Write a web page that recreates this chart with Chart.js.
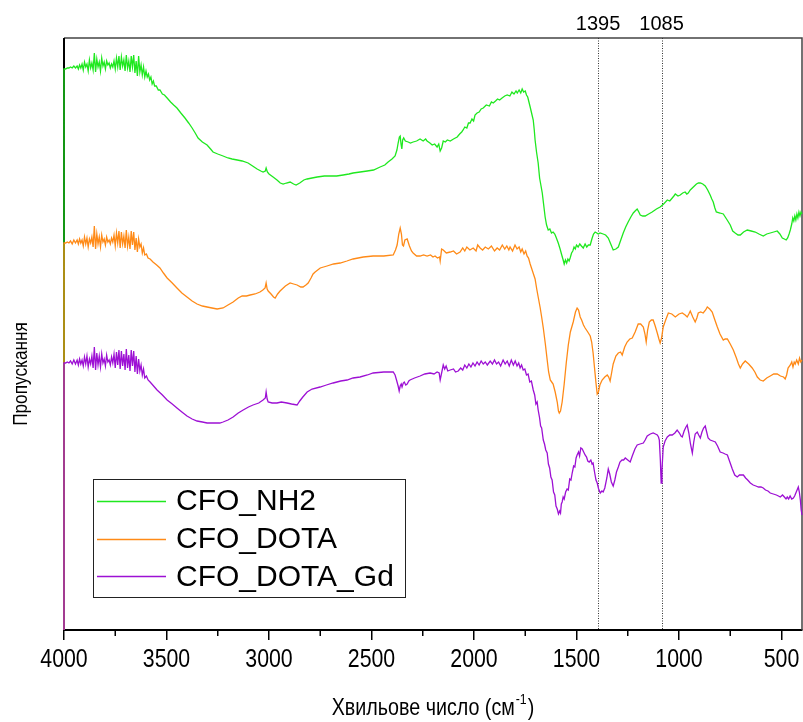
<!DOCTYPE html>
<html>
<head>
<meta charset="utf-8">
<title>ІЧ-спектри</title>
<script src="https://cdn.jsdelivr.net/npm/chart.js@4.4.1/dist/chart.umd.min.js"></script>
<style>
  html, body { margin: 0; padding: 0; background: #fff; }
  #wrap { width: 803px; height: 722px; }
</style>
</head>
<body>
<div id="wrap"><canvas id="ftir" width="803" height="722"></canvas></div>
<script>
// Axis ticks and marked absorption bands (cm^-1)
const WAVENUMBER_TICKS = [4000, 3500, 3000, 2500, 2000, 1500, 1000, 500];
const MINOR_TICKS = [3750, 3250, 2750, 2250, 1750, 1250, 750];
const MARKED_BANDS = [1395, 1085];
const SERIES_LABELS = ['CFO_NH2', 'CFO_DOTA', 'CFO_DOTA_Gd'];
const X_TITLE = 'Хвильове число (см';
const X_TITLE_SUP = '-1';
const Y_TITLE = 'Пропускання';

// Transmittance traces, [wavenumber, offset transmittance (a.u.)]
const CFO_NH2 = [
[4000,0],[4000,561],[3992,561],[3984,562],[3976,562],[3968,563],[3960,562],[3952,564],[3944,562],[3936,564],[3930,561],[3924,565],[3918,562],[3912,566],[3906,560],[3900,568],[3894,563],[3888,566],[3882,559],[3876,570],[3870,562],[3864,567],[3858,560],[3852,577],[3846,558],[3840,571],[3834,563],[3828,568],[3822,559],[3816,572],[3810,564],[3804,568],[3798,561],[3792,569],[3786,565],[3780,567],[3774,562],[3768,566],[3762,563],[3756,569],[3750,561],[3744,572],[3738,563],[3732,574],[3726,560],[3720,573],[3714,564],[3708,570],[3702,559],[3696,575],[3690,562],[3684,569],[3678,558],[3672,574],[3666,563],[3660,575],[3654,557],[3648,569],[3642,554],[3636,574],[3630,558],[3624,565],[3618,555],[3612,563],[3606,553],[3600,559],[3594,553],[3588,556],[3582,550],[3576,553],[3570,546],[3564,549],[3558,544],[3550,544],[3540,540],[3532,540],[3520,536],[3510,535],[3497,532],[3480,528],[3465,525],[3449,522],[3430,517],[3410,512],[3392,507],[3375,502],[3360,497],[3346,492],[3325,488],[3302,485],[3285,481],[3273,478],[3250,476],[3224,474],[3200,472],[3180,471],[3155,470],[3131,469],[3102,467],[3080,464],[3058,461],[3040,459],[3029,458],[3018,459],[3014,462],[3008,458],[3000,456],[2980,453],[2961,450],[2945,447],[2931,446],[2915,447],[2897,448],[2880,446],[2868,445],[2850,447],[2830,450],[2814,451],[2790,452],[2765,453],[2730,454],[2702,454],[2670,454],[2638,455],[2610,456],[2590,457],[2555,458],[2521,459],[2490,460],[2458,463],[2435,465],[2419,468],[2400,471],[2385,474],[2376,480],[2370,487],[2364,493],[2360,494],[2356,486],[2352,481],[2348,490],[2343,492],[2335,489],[2321,488],[2310,487],[2297,488],[2280,489],[2263,491],[2248,489],[2236,491],[2229,489],[2215,487],[2204,485],[2192,486],[2180,483],[2172,486],[2165,479],[2158,482],[2150,489],[2140,488],[2130,490],[2116,489],[2100,491],[2082,493],[2070,496],[2060,498],[2053,500],[2045,503],[2035,502],[2027,507],[2019,507],[2010,511],[2002,509],[1995,515],[1985,517],[1975,518],[1965,521],[1955,522],[1940,525],[1925,524],[1915,528],[1906,527],[1895,529],[1885,531],[1875,530],[1863,532],[1850,534],[1838,535],[1825,534],[1815,538],[1805,536],[1795,539],[1789,537],[1780,540],[1772,537],[1765,541],[1758,538],[1750,539],[1744,535],[1738,533],[1732,528],[1726,523],[1718,516],[1711,510],[1706,500],[1702,490],[1695,478],[1687,467],[1680,452],[1673,444],[1667,437],[1660,425],[1653,413],[1646,405],[1638,400],[1630,401],[1622,397],[1614,398],[1606,396],[1600,393],[1589,387],[1580,381],[1572,375],[1565,370],[1560,366],[1554,370],[1548,367],[1542,371],[1536,369],[1531,372],[1524,377],[1518,379],[1512,383],[1506,381],[1500,385],[1492,383],[1484,386],[1476,384],[1467,382],[1458,386],[1450,383],[1442,385],[1433,385],[1425,391],[1417,396],[1409,398],[1401,397],[1394,396],[1385,397],[1370,396],[1358,395],[1345,392],[1333,386],[1321,380],[1308,381],[1296,383],[1284,390],[1272,397],[1260,403],[1248,408],[1235,413],[1223,417],[1214,419],[1204,421],[1196,418],[1189,415],[1177,414],[1165,414],[1148,416],[1131,418],[1110,421],[1092,423],[1075,426],[1057,430],[1045,429],[1033,432],[1025,434],[1018,436],[1005,434],[994,435],[982,437],[970,438],[962,436],[955,437],[945,440],[930,443],[915,446],[905,447],[896,447],[884,446],[872,444],[860,440],[848,435],[840,431],[833,428],[825,422],[818,418],[800,417],[784,416],[765,410],[750,405],[738,399],[726,397],[712,395],[701,395],[685,398],[667,400],[648,399],[628,398],[610,396],[589,394],[572,396],[555,397],[538,398],[521,399],[508,396],[496,392],[486,391],[477,390],[470,392],[463,396],[457,400],[450,406],[445,412],[440,409],[435,414],[430,410],[425,416],[420,412],[415,418],[410,414],[405,418],[400,416]
];

const CFO_DOTA = [
[4000,0],[4000,387],[3992,387],[3984,388],[3976,387],[3968,389],[3960,386],[3952,390],[3944,387],[3936,390],[3930,386],[3924,391],[3918,387],[3912,390],[3906,384],[3900,393],[3894,386],[3888,392],[3882,383],[3876,391],[3870,387],[3864,393],[3858,383],[3852,404],[3846,381],[3840,396],[3834,386],[3828,393],[3822,383],[3816,395],[3810,388],[3804,391],[3798,385],[3792,393],[3786,388],[3780,390],[3774,386],[3768,392],[3762,388],[3756,395],[3750,384],[3744,397],[3738,387],[3732,399],[3726,382],[3720,398],[3714,386],[3708,394],[3702,382],[3696,400],[3690,384],[3684,393],[3678,381],[3672,399],[3666,385],[3660,398],[3654,380],[3648,392],[3642,378],[3636,391],[3630,383],[3624,386],[3618,377],[3612,382],[3606,375],[3598,376],[3590,372],[3580,371],[3566,368],[3548,365],[3532,362],[3515,357],[3497,352],[3472,347],[3449,342],[3425,337],[3400,333],[3375,329],[3351,326],[3325,324],[3302,323],[3278,322],[3253,321],[3224,322],[3200,325],[3175,328],[3150,332],[3131,334],[3110,334],[3092,335],[3068,336],[3044,338],[3030,340],[3019,342],[3014,347],[3009,341],[3004,339],[2990,336],[2978,333],[2970,332],[2958,336],[2946,339],[2920,344],[2897,347],[2880,346],[2863,345],[2845,343],[2834,343],[2820,345],[2809,347],[2795,352],[2785,356],[2775,358],[2750,362],[2717,364],[2685,366],[2653,367],[2620,369],[2590,371],[2540,373],[2492,374],[2440,374],[2394,375],[2383,380],[2375,385],[2367,396],[2360,402],[2354,396],[2349,385],[2344,384],[2337,390],[2326,391],[2315,384],[2305,379],[2297,377],[2280,374],[2263,374],[2246,375],[2229,374],[2212,375],[2200,373],[2190,374],[2178,372],[2168,373],[2165,369],[2158,381],[2150,380],[2135,377],[2116,378],[2100,379],[2085,376],[2068,378],[2055,382],[2045,379],[2035,383],[2020,380],[2004,382],[1990,379],[1982,385],[1970,382],[1958,380],[1945,383],[1930,381],[1915,384],[1900,379],[1887,382],[1875,380],[1862,385],[1850,381],[1840,384],[1830,380],[1824,383],[1812,379],[1800,385],[1790,381],[1780,383],[1772,378],[1765,381],[1756,376],[1748,379],[1741,374],[1734,372],[1726,366],[1718,361],[1710,356],[1702,351],[1694,341],[1686,332],[1677,322],[1670,313],[1662,302],[1652,286],[1643,270],[1636,258],[1628,250],[1621,248],[1614,246],[1604,238],[1594,228],[1588,219],[1584,217],[1578,219],[1570,228],[1560,246],[1550,267],[1540,285],[1530,298],[1516,308],[1505,318],[1497,322],[1490,320],[1482,313],[1475,310],[1466,305],[1458,302],[1445,298],[1433,294],[1426,288],[1419,277],[1412,262],[1405,247],[1399,236],[1393,238],[1386,245],[1375,250],[1362,253],[1350,255],[1343,253],[1336,249],[1328,258],[1321,266],[1308,274],[1296,277],[1285,278],[1277,275],[1265,283],[1253,288],[1240,291],[1228,292],[1214,298],[1199,306],[1187,306],[1174,303],[1166,296],[1160,288],[1153,300],[1145,308],[1135,310],[1126,310],[1116,304],[1106,297],[1098,291],[1092,287],[1085,292],[1077,303],[1065,310],[1052,317],[1035,316],[1018,313],[1000,316],[984,317],[970,315],[960,313],[952,316],[945,319],[933,313],[921,308],[913,312],[906,317],[894,318],[882,317],[870,320],[862,323],[850,321],[838,318],[825,310],[813,303],[800,296],[784,290],[775,291],[764,291],[750,286],[735,280],[720,272],[710,266],[701,262],[690,266],[677,269],[660,266],[643,262],[630,258],[618,253],[604,250],[589,249],[572,252],[555,254],[538,256],[521,256],[505,254],[490,253],[482,251],[475,255],[468,262],[457,265],[450,268],[444,263],[438,268],[433,266],[426,270],[418,266],[412,272],[406,268],[400,270]
];

const CFO_DOTA_GD = [
[4000,0],[4000,267],[3992,267],[3984,268],[3976,267],[3968,269],[3960,266],[3952,270],[3944,266],[3936,270],[3930,265],[3924,271],[3918,266],[3912,270],[3906,264],[3900,273],[3894,266],[3888,274],[3882,263],[3876,271],[3870,266],[3864,274],[3858,262],[3852,283],[3846,260],[3840,277],[3834,265],[3828,274],[3822,263],[3816,276],[3810,267],[3804,271],[3798,264],[3792,275],[3786,268],[3780,270],[3774,265],[3768,273],[3762,267],[3756,276],[3750,262],[3744,278],[3738,265],[3732,280],[3726,261],[3720,279],[3714,264],[3708,276],[3702,260],[3696,281],[3690,262],[3684,275],[3678,259],[3672,280],[3666,264],[3660,279],[3654,258],[3648,274],[3642,256],[3636,271],[3630,259],[3624,265],[3618,255],[3612,261],[3606,252],[3598,254],[3590,250],[3580,248],[3563,244],[3546,240],[3520,235],[3497,230],[3472,226],[3449,222],[3425,218],[3400,214],[3375,211],[3351,209],[3325,208],[3302,207],[3280,207],[3263,207],[3240,207],[3224,208],[3200,210],[3175,213],[3150,217],[3126,220],[3100,223],[3078,225],[3050,227],[3029,230],[3018,232],[3014,238],[3009,231],[3004,228],[2985,227],[2961,227],[2940,228],[2912,227],[2890,226],[2863,225],[2850,229],[2835,233],[2814,238],[2790,241],[2751,243],[2720,245],[2687,247],[2650,249],[2619,250],[2590,252],[2556,253],[2520,255],[2492,257],[2440,258],[2394,258],[2385,255],[2378,250],[2370,244],[2365,239],[2360,244],[2355,246],[2351,243],[2345,247],[2340,248],[2333,245],[2326,246],[2318,249],[2312,250],[2290,252],[2263,254],[2240,256],[2214,257],[2195,256],[2180,258],[2170,257],[2165,250],[2160,255],[2150,265],[2143,261],[2136,264],[2128,259],[2116,260],[2100,261],[2090,258],[2077,259],[2065,262],[2055,260],[2045,265],[2035,262],[2025,266],[2015,263],[2005,267],[1995,264],[1985,268],[1975,265],[1965,269],[1955,266],[1945,268],[1935,265],[1921,269],[1910,266],[1900,270],[1890,266],[1880,268],[1870,264],[1858,270],[1848,266],[1838,269],[1828,264],[1818,270],[1808,265],[1799,269],[1790,264],[1782,267],[1775,262],[1768,265],[1760,260],[1752,261],[1744,255],[1736,256],[1728,248],[1720,249],[1711,240],[1704,235],[1698,226],[1692,228],[1687,220],[1680,212],[1675,204],[1670,202],[1662,190],[1656,186],[1650,180],[1643,177],[1637,166],[1631,162],[1625,153],[1619,150],[1612,138],[1606,135],[1600,124],[1594,121],[1588,116],[1582,119],[1578,117],[1574,126],[1570,128],[1565,133],[1560,131],[1553,138],[1546,141],[1540,140],[1533,151],[1527,150],[1521,157],[1514,164],[1508,163],[1502,172],[1497,175],[1490,178],[1485,174],[1479,182],[1472,181],[1465,178],[1458,175],[1451,173],[1445,169],[1438,168],[1430,170],[1424,166],[1419,167],[1412,158],[1405,150],[1399,147],[1392,141],[1384,137],[1376,139],[1370,138],[1362,142],[1352,152],[1345,161],[1338,156],[1330,148],[1321,144],[1313,150],[1305,158],[1296,163],[1288,168],[1278,170],[1270,170],[1262,172],[1250,170],[1238,168],[1228,174],[1215,181],[1204,185],[1190,186],[1174,187],[1165,190],[1155,194],[1140,196],[1126,197],[1115,196],[1106,195],[1100,193],[1096,190],[1091,170],[1087,147],[1083,160],[1077,183],[1068,189],[1057,193],[1045,195],[1033,195],[1020,197],[1009,200],[998,197],[990,194],[984,193],[975,199],[966,203],[960,205],[952,197],[944,186],[935,177],[928,188],[921,196],[911,198],[904,195],[896,192],[888,198],[880,202],[872,204],[865,198],[858,192],[848,190],[835,189],[823,188],[812,184],[799,178],[785,177],[775,176],[764,175],[752,168],[740,161],[728,155],[716,153],[705,155],[695,155],[686,155],[675,152],[665,150],[652,147],[638,145],[625,144],[612,143],[600,143],[589,142],[578,140],[566,139],[555,137],[540,136],[525,135],[515,134],[506,133],[495,135],[486,133],[478,131],[472,133],[465,131],[458,134],[450,131],[442,132],[436,134],[430,137],[424,140],[418,143],[413,138],[408,130],[404,120],[400,115]
];

const SERIES_COLORS = ['#1fe81f', '#ff8a17', '#9d10d4'];
const REGULAR = "'Liberation Sans', Arial, sans-serif";
// Narrow lettering: Arial metrics squeezed horizontally
const NARROW_SQUEEZE = 0.82;

const toPoints = arr => arr.map(([x, y]) => ({ x, y }));

function narrowText(ctx, text, x, y, size, align) {
  ctx.save();
  ctx.font = size + 'px ' + REGULAR;
  const w = ctx.measureText(text).width * NARROW_SQUEEZE;
  let left = x;
  if (align === 'center') left = x - w / 2;
  else if (align === 'right') left = x - w;
  ctx.translate(left, y);
  ctx.scale(NARROW_SQUEEZE, 1);
  ctx.textAlign = 'left';
  ctx.fillText(text, 0, 0);
  ctx.restore();
  return w;
}
function narrowWidth(ctx, text, size) {
  ctx.save();
  ctx.font = size + 'px ' + REGULAR;
  const w = ctx.measureText(text).width * NARROW_SQUEEZE;
  ctx.restore();
  return w;
}

// Frame around the plot area, dotted band markers, tick labels, titles, legend
const framePlugin = {
  id: 'frame',
  beforeDatasetsDraw(chart) {
    const { ctx, chartArea: a, scales: { x } } = chart;
    ctx.save();
    ctx.strokeStyle = '#444';
    ctx.lineWidth = 1.5;
    ctx.beginPath();
    ctx.moveTo(a.left, a.top);
    ctx.lineTo(a.right, a.top);
    ctx.lineTo(a.right, a.bottom);
    ctx.stroke();
    ctx.strokeStyle = '#000';
    ctx.lineWidth = 2;
    ctx.beginPath();
    ctx.moveTo(a.left, a.top);
    ctx.lineTo(a.left, a.bottom);
    ctx.stroke();

    ctx.strokeStyle = '#333';
    ctx.lineWidth = 1;
    ctx.setLineDash([1, 1.5]);
    MARKED_BANDS.forEach(b => {
      const px = Math.round(x.getPixelForValue(b)) + 0.5;
      ctx.beginPath();
      ctx.moveTo(px, a.top);
      ctx.lineTo(px, a.bottom);
      ctx.stroke();
    });
    ctx.restore();
  },
  afterDraw(chart) {
    const { ctx, chartArea: a, scales: { x } } = chart;
    ctx.save();
    // minor ticks
    ctx.strokeStyle = '#000';
    ctx.lineWidth = 1.5;
    MINOR_TICKS.forEach(v => {
      const px = x.getPixelForValue(v);
      ctx.beginPath();
      ctx.moveTo(px, a.bottom);
      ctx.lineTo(px, a.bottom + 6);
      ctx.stroke();
    });

    // tick labels
    ctx.fillStyle = '#000';
    ctx.textBaseline = 'alphabetic';
    WAVENUMBER_TICKS.forEach(v => {
      narrowText(ctx, String(v), x.getPixelForValue(v), 667, 26, 'center');
    });

    // band labels
    ctx.font = '20px ' + REGULAR;
    ctx.textAlign = 'center';
    MARKED_BANDS.forEach(b => {
      ctx.fillText(String(b), x.getPixelForValue(b), 30);
    });

    // x axis title with superscript
    const w1 = narrowWidth(ctx, X_TITLE, 24);
    const w2 = narrowWidth(ctx, X_TITLE_SUP, 15);
    const w3 = narrowWidth(ctx, ')', 24);
    const total = w1 + w2 + w3 + 2;
    let sx = (a.left + a.right) / 2 - total / 2;
    const base = 715;
    narrowText(ctx, X_TITLE, sx, base, 24, 'left');
    sx += w1 + 1;
    narrowText(ctx, X_TITLE_SUP, sx, base - 11, 15, 'left');
    sx += w2 + 1;
    narrowText(ctx, ')', sx, base, 24, 'left');

    // y axis title
    ctx.save();
    ctx.translate(27, 374);
    ctx.rotate(-Math.PI / 2);
    narrowText(ctx, Y_TITLE, 0, 0, 21, 'center');
    ctx.restore();

    // legend box
    const box = { l: 93, t: 479, r: 405, b: 597 };
    ctx.fillStyle = '#fff';
    ctx.fillRect(box.l, box.t, box.r - box.l, box.b - box.t);
    ctx.strokeStyle = '#222';
    ctx.lineWidth = 1;
    ctx.strokeRect(box.l + 0.5, box.t + 0.5, box.r - box.l, box.b - box.t);
    ctx.font = '30px ' + REGULAR;
    ctx.textBaseline = 'middle';
    ctx.textAlign = 'left';
    chart.data.datasets.forEach((ds, i) => {
      const y = 501 + i * 37.7;
      ctx.strokeStyle = ds.borderColor;
      ctx.lineWidth = 1.5;
      ctx.beginPath();
      ctx.moveTo(97, Math.round(y) + 0.5);
      ctx.lineTo(166, Math.round(y) + 0.5);
      ctx.stroke();
      ctx.fillStyle = '#000';
      ctx.fillText(ds.label, 176, y + 1);
    });
    ctx.restore();
  }
};

const series = [CFO_NH2, CFO_DOTA, CFO_DOTA_GD];

new Chart(document.getElementById('ftir'), {
  type: 'line',
  data: {
    datasets: series.map((s, i) => ({
      label: SERIES_LABELS[i],
      data: toPoints(s),
      borderColor: SERIES_COLORS[i],
      borderWidth: 1.3,
      pointRadius: 0,
      tension: 0,
      fill: false,
      clip: 2,
      order: series.length - i
    }))
  },
  options: {
    responsive: false,
    animation: false,
    devicePixelRatio: 1,
    layout: { padding: { left: 64, right: 1, top: 38, bottom: 0 }, autoPadding: false },
    plugins: { legend: { display: false }, tooltip: { enabled: false } },
    scales: {
      x: {
        type: 'linear',
        reverse: true,
        min: 400,
        max: 4000,
        afterBuildTicks: s => { s.ticks = WAVENUMBER_TICKS.map(v => ({ value: v })); },
        afterFit: s => { s.height = 92; },
        ticks: { display: false, autoSkip: false, maxRotation: 0 },
        grid: { drawOnChartArea: false, drawTicks: true, tickLength: 10, color: '#000', lineWidth: 1.5 },
        border: { display: true, color: '#000', width: 2 }
      },
      y: {
        display: false,
        min: 0,
        max: 592
      }
    }
  },
  plugins: [framePlugin]
});
</script>
</body>
</html>
